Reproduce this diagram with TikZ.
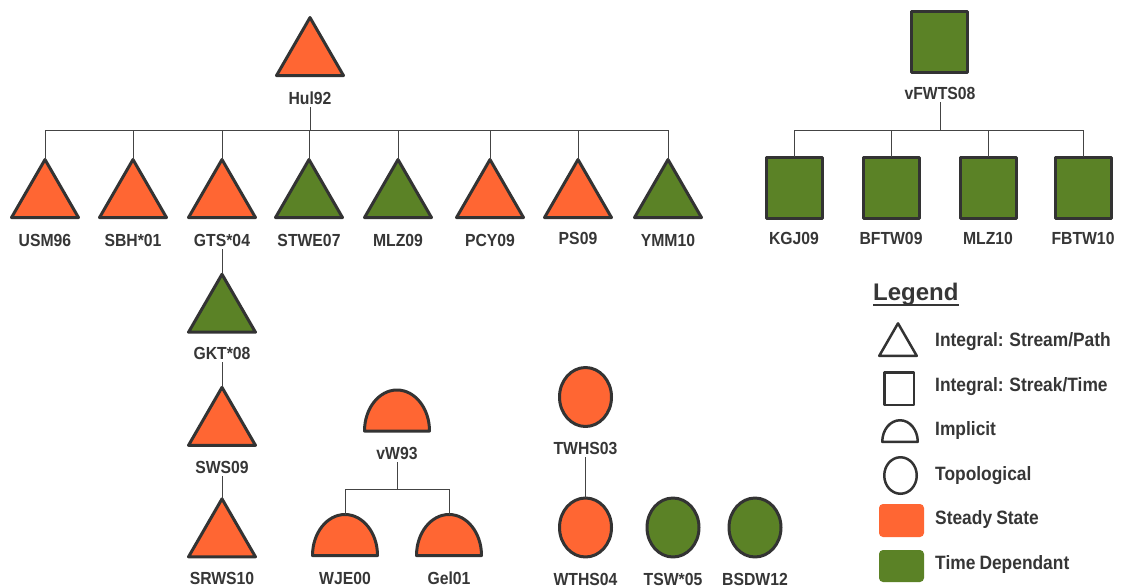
\documentclass[tikz,border=0pt]{standalone}
\usepackage{fontspec}
\setmainfont{Liberation Sans}
\newfontfamily\labfont{Liberation Sans}[FakeStretch=0.9,WordSpace=0.85]
\usetikzlibrary{shapes.geometric}
\definecolor{steady}{HTML}{FF6633}
\definecolor{timedep}{HTML}{5B8226}
\definecolor{outline}{HTML}{333333}
\definecolor{ink}{HTML}{363636}
\definecolor{wire}{HTML}{444444}

\begin{document}
\begin{tikzpicture}[x=1pt,y=-1pt,
  shapeline/.style={draw=outline,line width=3pt,line join=round},
  tri/.style={shapeline,regular polygon,regular polygon sides=3,minimum size=77.3pt,inner sep=0pt,outer sep=0pt},
  sq/.style={shapeline,rectangle,minimum width=56pt,minimum height=61pt,inner sep=0pt,outer sep=0pt},
  oval/.style={shapeline,ellipse,minimum width=52pt,minimum height=59pt,inner sep=0pt,outer sep=0pt},
  ss/.style={fill=steady},
  td/.style={fill=timedep},
  lab/.style={font=\labfont\bfseries\fontsize{17.5}{20}\selectfont,text=ink,text height=12.5pt,text depth=0pt,inner sep=3pt},
  legtext/.style={font=\labfont\bfseries\fontsize{19.3}{22}\selectfont,text=ink,text height=13.8pt,text depth=0pt,inner sep=0pt,anchor=west},
  legicon/.style={draw=outline,line width=2.5pt,line join=round,fill=white,inner sep=0pt,outer sep=0pt},
  conn/.style={draw=wire,line width=1pt},
  halfoval/.pic={
    \path[shapeline,pic actions] (-32.5,0) arc[start angle=180,end angle=360,x radius=32.5,y radius=41] -- cycle;
    \coordinate (-top) at (0,-41);
  }
]
\useasboundingbox[fill=white] (0,0) rectangle (1122,587);

% --- streamline / pathline family ---
\node[tri,ss] (hul) at (310,56.2) {};
\node[lab] (hull) at (310,98) {Hul92};
\coordinate (hulbus) at (310,130);
\foreach \n/\x/\c/\t/\ly in {usm/45/ss/USM96/240, sbh/133/ss/SBH*01/240, gts/222/ss/GTS*04/240,
    stwe/309/td/STWE07/240, mlz/398/td/MLZ09/240, pcy/490/ss/PCY09/240, ps/578/ss/PS09/238, ymm/668/td/YMM10/240}{
  \node[tri,\c] (\n) at (\x,198.2) {};
  \node[lab] (\n l) at (\x,\ly) {\t};
  \draw[conn] (hull.south) -- (hulbus) -| (\n.corner 1);
}

\node[tri,td] (gkt) at (222,312.9) {};
\node[lab] (gktl) at (222,353) {GKT*08};
\node[tri,ss] (sws) at (222,426) {};
\node[lab] (swsl) at (222,467) {SWS09};
\node[tri,ss] (srws) at (222,537.5) {};
\node[lab] (srwsl) at (222,578) {SRWS10};
\draw[conn] (gtsl.south) -- (gkt.corner 1);
\draw[conn] (gktl.south) -- (sws.corner 1);
\draw[conn] (swsl.south) -- (srws.corner 1);

% --- streak / timeline family ---
\node[sq,td] (vf) at (939.5,41.5) {};
\node[lab] (vfl) at (940,93) {vFWTS08};
\coordinate (vfbus) at (940,130);
\foreach \n/\x/\t in {kgj/794/KGJ09, bftw/891/BFTW09, mlzt/988/MLZ10, fbtw/1083/FBTW10}{
  \node[sq,td] (\n) at (\x,187.5) {};
  \node[lab] (\n l) at (\x,238) {\t};
  \draw[conn] (vfl.south) -- (vfbus) -| (\n.north);
}

% --- implicit family ---
\pic[ss] (vw) at (397,431) {halfoval};
\node[lab] (vwl) at (397,453) {vW93};
\coordinate (vwbus) at (397,489);
\pic[ss] (wje) at (345,555.5) {halfoval};
\node[lab] (wjel) at (345,578) {WJE00};
\pic[ss] (gel) at (449,555.5) {halfoval};
\node[lab] (gell) at (449,578) {Gel01};
\draw[conn] (vwl.south) -- (vwbus) -| (wje-top);
\draw[conn] (vwl.south) -- (vwbus) -| (gel-top);

% --- topological family ---
\node[oval,ss] (twhs) at (585.5,397) {};
\node[lab] (twhsl) at (585.5,448) {TWHS03};
\node[oval,ss] (wths) at (585.5,527.5) {};
\node[lab] (wthsl) at (585.5,579) {WTHS04};
\node[oval,td] (tsw) at (673,527.5) {};
\node[lab] (tswl) at (673,579) {TSW*05};
\node[oval,td] (bsdw) at (755,527.5) {};
\node[lab] (bsdwl) at (755,579) {BSDW12};
\draw[conn] (twhsl.south) -- (wths.north);

% --- legend ---
\node[font=\bfseries\fontsize{24}{28}\selectfont,text=ink,anchor=base west,inner sep=0pt] (legtitle) at (873,300.7) {Legend};
\draw[ink,line width=1.5pt] ([yshift=-4.3pt]legtitle.base west) -- ([yshift=-4.3pt]legtitle.base east);

\node[legicon,regular polygon,regular polygon sides=3,minimum size=43.3pt] (ltri) at (898,345) {};
\node[legicon,rectangle,minimum width=29.5pt,minimum height=32.5pt] (lsq) at (899,388.5) {};
\path[legicon] (882.25,441.75) arc[start angle=180,end angle=360,x radius=17.75,y radius=21.5] -- cycle;
\node[legicon,ellipse,minimum width=32.5pt,minimum height=36.5pt] (lcirc) at (900.5,475.5) {};
\node[fill=steady,rounded corners=4pt,minimum width=45pt,minimum height=33pt,inner sep=0pt] (lss) at (901.5,520.5) {};
\node[fill=timedep,rounded corners=4pt,minimum width=45pt,minimum height=32pt,inner sep=0pt] (ltd) at (901.5,566) {};

\node[legtext] (t1) at (935,340) {Integral: Stream/Path};
\node[legtext] (t2) at (935,385) {Integral: Streak/Time};
\node[legtext] (t3) at (935,429) {Implicit};
\node[legtext] (t4) at (935,474) {Topological};
\node[legtext] (t5) at (935,518) {Steady State};
\node[legtext] (t6) at (935,563) {Time Dependant};
\end{tikzpicture}
\end{document}
